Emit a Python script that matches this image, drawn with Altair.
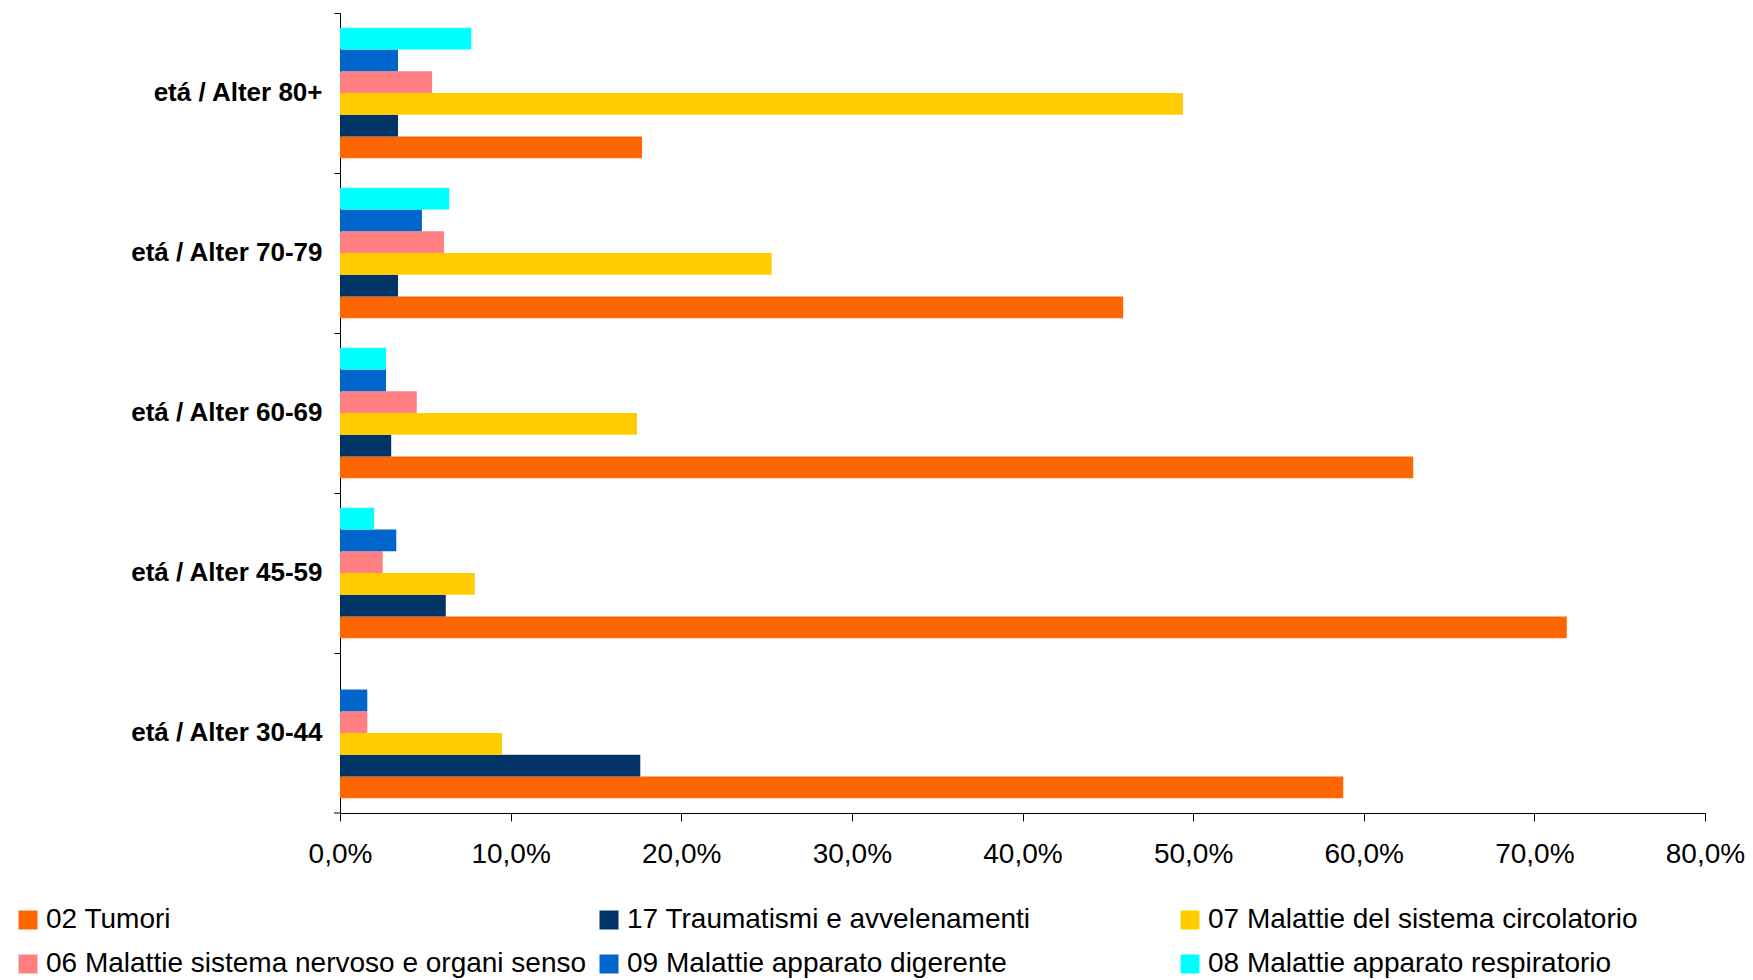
import altair as alt
import pandas as pd

# Age groups (top to bottom as drawn)
groups = ["etá / Alter 80+", "etá / Alter 70-79", "etá / Alter 60-69",
          "etá / Alter 45-59", "etá / Alter 30-44"]

# Series (legend order)
series = ["02 Tumori",
          "17 Traumatismi e avvelenamenti",
          "07 Malattie del sistema circolatorio",
          "06 Malattie sistema nervoso e organi senso",
          "09 Malattie apparato digerente",
          "08 Malattie apparato respiratorio"]
colors = ["#FF6600", "#003366", "#FFCC00", "#FF8080", "#0066CC", "#00FFFF"]

# Values in percent, per series, in the order of `groups`
v_tumori = [17.7, 45.9, 62.9, 71.9, 58.8]
v_traumatismi = [3.4, 3.4, 3.0, 6.2, 17.6]
v_circolatorio = [49.4, 25.3, 17.4, 7.9, 9.5]
v_nervoso = [5.4, 6.1, 4.5, 2.5, 1.6]
v_digerente = [3.4, 4.8, 2.7, 3.3, 1.6]
v_respiratorio = [7.7, 6.4, 2.7, 2.0, 0.0]

x_ticks = [0.0, 0.1, 0.2, 0.3, 0.4, 0.5, 0.6, 0.7, 0.8]

all_vals = [v_tumori, v_traumatismi, v_circolatorio, v_nervoso, v_digerente, v_respiratorio]
rows = []
for s, vals in zip(series, all_vals):
    for g, v in zip(groups, vals):
        rows.append({"gruppo": g, "serie": s, "valore": v / 100.0})
df = pd.DataFrame(rows)

# bars inside each group, top to bottom
offset_order = list(reversed(series))

FONT = "Liberation Sans"
W, H = 1365, 800

bars = alt.Chart(df).mark_bar(cornerRadius=0).encode(
    x=alt.X("valore:Q",
            scale=alt.Scale(domain=[0, 0.8], nice=False, zero=True),
            axis=alt.Axis(values=x_ticks,
                          labelExpr="replace(format(datum.value, '.1%'), '.', ',')",
                          title=None, grid=False, labelFlush=False,
                          domainColor="black", tickColor="black", tickSize=8,
                          labelFont=FONT, labelFontSize=28, labelColor="black",
                          labelPadding=19)),
    y=alt.Y("gruppo:N", sort=groups,
            scale=alt.Scale(paddingInner=0, paddingOuter=0),
            axis=alt.Axis(title=None, bandPosition=0,
                          domainColor="black", tickColor="black", tickSize=6,
                          labelFont=FONT, labelFontSize=26, labelFontWeight="bold",
                          labelColor="black", labelPadding=12, labelLimit=0)),
    yOffset=alt.YOffset("serie:N", sort=offset_order,
                        scale=alt.Scale(paddingInner=0, paddingOuter=0.68)),
    color=alt.Color("serie:N",
                    scale=alt.Scale(domain=series, range=colors),
                    legend=alt.Legend(title=None, orient="none",
                                      legendX=-326, legendY=893,
                                      columns=3, direction="horizontal",
                                      symbolType="square", symbolSize=361,
                                      symbolStrokeWidth=0,
                                      labelFont=FONT, labelFontSize=28,
                                      labelColor="black", labelOffset=4,
                                      labelLimit=0, columnPadding=8,
                                      rowPadding=16, gridAlign="all",
                                      padding=0)),
)

tick_df = pd.DataFrame({"t": [0]})
bottom_tick = alt.Chart(tick_df).mark_rule(color="black", strokeWidth=1).encode(
    x=alt.value(-6), x2=alt.value(0), y=alt.value(H)
)

chart = alt.layer(bars, bottom_tick).properties(
    width=W, height=H,
    autosize=alt.AutoSizeParams(type="none"),
    padding={"left": 332, "top": 5, "right": 40, "bottom": 167},
    background="white",
).configure_view(stroke=None)

chart.save("out.html", embed_options={"renderer": "svg", "actions": False})
